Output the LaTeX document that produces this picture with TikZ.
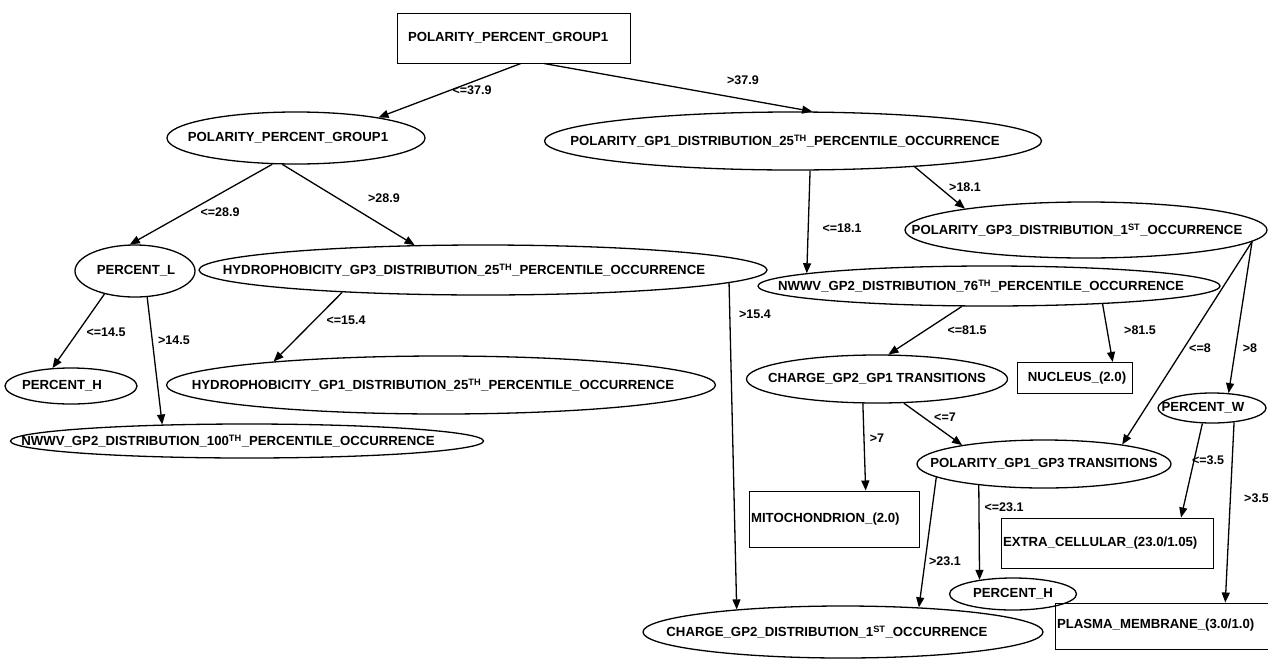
\documentclass[tikz,border=0pt]{standalone}
\usepackage{fontspec}
\setmainfont{Liberation Sans}
\usetikzlibrary{shapes.geometric,arrows.meta}
\newcommand\nodetext[2]{\makebox[0pt]{\kern#1pt\kern#1pt #2}}
\newcommand\lefttext[2]{\makebox[0pt]{\makebox[#1pt][l]{#2}}}
\tikzset{
  base/.style={draw, line width=1.3pt, font=\bfseries\fontsize{13.2}{15}\selectfont, inner sep=0pt},
  ell/.style={base, ellipse},
  leaf/.style={base, rectangle, line width=1pt},
  lab/.style={font=\bfseries\fontsize{12.5}{14}\selectfont, inner sep=0pt},
  arr/.style={line width=1.3pt, -{Triangle[length=10pt,width=8pt]}},
}
\begin{document}
\begin{tikzpicture}[x=1pt,y=-1pt]
\fill[white] (0,0) rectangle (1268,659);
\path[use as bounding box] (0,0) rectangle (1268,659);

% nodes
\node[leaf, minimum width=233pt, minimum height=50pt] (root) at (513.5,38) {\lefttext{211}{POLARITY\_PERCENT\_GROUP1}};
\node[ell, minimum width=258pt, minimum height=52pt] (n1) at (296,138) {\nodetext{-8}{POLARITY\_PERCENT\_GROUP1}};
\node[ell, minimum width=497pt, minimum height=58pt] (n2) at (793,141) {\nodetext{-8}{POLARITY\_GP1\_DISTRIBUTION\_25\textsuperscript{TH}\_PERCENTILE\_OCCURRENCE}};
\node[ell, minimum width=120pt, minimum height=52pt] (pl) at (135,271) {\nodetext{1}{PERCENT\_L}};
\node[ell, minimum width=568pt, minimum height=50pt] (hyd3) at (483,270) {\nodetext{-19}{HYDROPHOBICITY\_GP3\_DISTRIBUTION\_25\textsuperscript{TH}\_PERCENTILE\_OCCURRENCE}};
\node[ell, minimum width=132pt, minimum height=36pt] (ph1) at (71,386) {\nodetext{-9}{PERCENT\_H}};
\node[ell, minimum width=549pt, minimum height=58pt] (hyd1) at (441,385) {\nodetext{-8}{HYDROPHOBICITY\_GP1\_DISTRIBUTION\_25\textsuperscript{TH}\_PERCENTILE\_OCCURRENCE}};
\node[ell, minimum width=473pt, minimum height=34pt] (nw100) at (247,441) {\nodetext{-19}{NWWV\_GP2\_DISTRIBUTION\_100\textsuperscript{TH}\_PERCENTILE\_OCCURRENCE}};
\node[ell, minimum width=362pt, minimum height=56pt] (gp3) at (1086,230) {\nodetext{-9}{POLARITY\_GP3\_DISTRIBUTION\_1\textsuperscript{ST}\_OCCURRENCE}};
\node[ell, minimum width=462pt, minimum height=40pt] (nw76) at (989,286) {\nodetext{-8}{NWWV\_GP2\_DISTRIBUTION\_76\textsuperscript{TH}\_PERCENTILE\_OCCURRENCE}};
\node[ell, minimum width=261pt, minimum height=48pt] (cg) at (877,379) {\nodetext{0}{CHARGE\_GP2\_GP1 TRANSITIONS}};
\node[leaf, minimum width=115pt, minimum height=31pt] (nuc) at (1075,378) {\nodetext{2}{NUCLEUS\_(2.0)}};
\node[ell, minimum width=108pt, minimum height=30pt] (pw) at (1212,408) {\nodetext{-9}{PERCENT\_W}};
\node[ell, minimum width=254pt, minimum height=48pt] (pt) at (1044,464) {\nodetext{0}{POLARITY\_GP1\_GP3 TRANSITIONS}};
\node[leaf, minimum width=170pt, minimum height=56pt] (mito) at (834,519) {\lefttext{166}{MITOCHONDRION\_(2.0)}};
\node[leaf, minimum width=212pt, minimum height=50pt] (ext) at (1107,543) {\lefttext{208}{\raisebox{3pt}{EXTRA\_CELLULAR\_(23.0/1.05)}}};
\node[ell, minimum width=127pt, minimum height=32pt] (ph2) at (1013,594) {\nodetext{0}{PERCENT\_H}};
\node[leaf, minimum width=235pt, minimum height=46pt] (plasma) at (1172.5,626) {\lefttext{231}{\raisebox{5pt}{PLASMA\_MEMBRANE\_(3.0/1.0)}}};
\node[ell, minimum width=400pt, minimum height=52pt] (c1) at (843,632) {\nodetext{-16}{CHARGE\_GP2\_DISTRIBUTION\_1\textsuperscript{ST}\_OCCURRENCE}};

% connectors
\draw[arr] (root.-74) -- (n1.14);
\draw[arr] (root.-40) -- (n2.57);
\draw[arr] (n1.-132) -- (pl.101);
\draw[arr] (n1.-117) -- (hyd3.160);
\draw[arr] (pl.-143) -- (ph1.136);
\draw[arr] (pl.-65) -- (nw100.169);
\draw[arr] (hyd3.-171) -- (hyd1.172);
\draw[arr] (hyd3.-3) -- (c1.168);
\draw[arr] (n2.-60) -- (nw76.176);
\draw[arr] (n2.-12) -- (gp3.170);
\draw[arr] (nw76.-143) -- (cg.65);
\draw[arr] (nw76.-9) -- (nuc.23);
\draw[arr] (gp3.-4) -- (pt.14);
\draw[arr] (gp3.-4) -- (pw.42);
\draw[arr] (cg.-120) -- (mito.42);
\draw[arr] (cg.-42) -- (pt.167);
\draw[arr] (pt.-162) -- (ph2.157);
\draw[arr] (pt.-173) -- (c1.18);
\draw[arr] (pw.-122) -- (ext.19);
\draw[arr] (pw.-33) -- (plasma.24);

% labels
\node[lab] (l1) at (472,90) {<=37.9};
\node[lab] (l2) at (743,80) {>37.9};
\node[lab] (l3) at (220,212) {<=28.9};
\node[lab] (l4) at (384,198) {>28.9};
\node[lab] (l5) at (106,332) {<=14.5};
\node[lab] (l6) at (174,340) {>14.5};
\node[lab] (l7) at (346,320) {<=15.4};
\node[lab] (l8) at (755,314) {>15.4};
\node[lab] (l9) at (842,228) {<=18.1};
\node[lab] (l10) at (965,187) {>18.1};
\node[lab] (l11) at (967,330) {<=81.5};
\node[lab] (l12) at (1140,330) {>81.5};
\node[lab] (l13) at (1200,348) {<=8};
\node[lab] (l14) at (1250,348) {>8};
\node[lab] (l15) at (945,417) {<=7};
\node[lab] (l16) at (877,438) {>7};
\node[lab] (l17) at (1004,507) {<=23.1};
\node[lab] (l18) at (945,561) {>23.1};
\node[lab] (l19) at (1208,460) {<=3.5};
\node[lab, anchor=west] (l20) at (1244,498) {>3.5};
\end{tikzpicture}
\end{document}
